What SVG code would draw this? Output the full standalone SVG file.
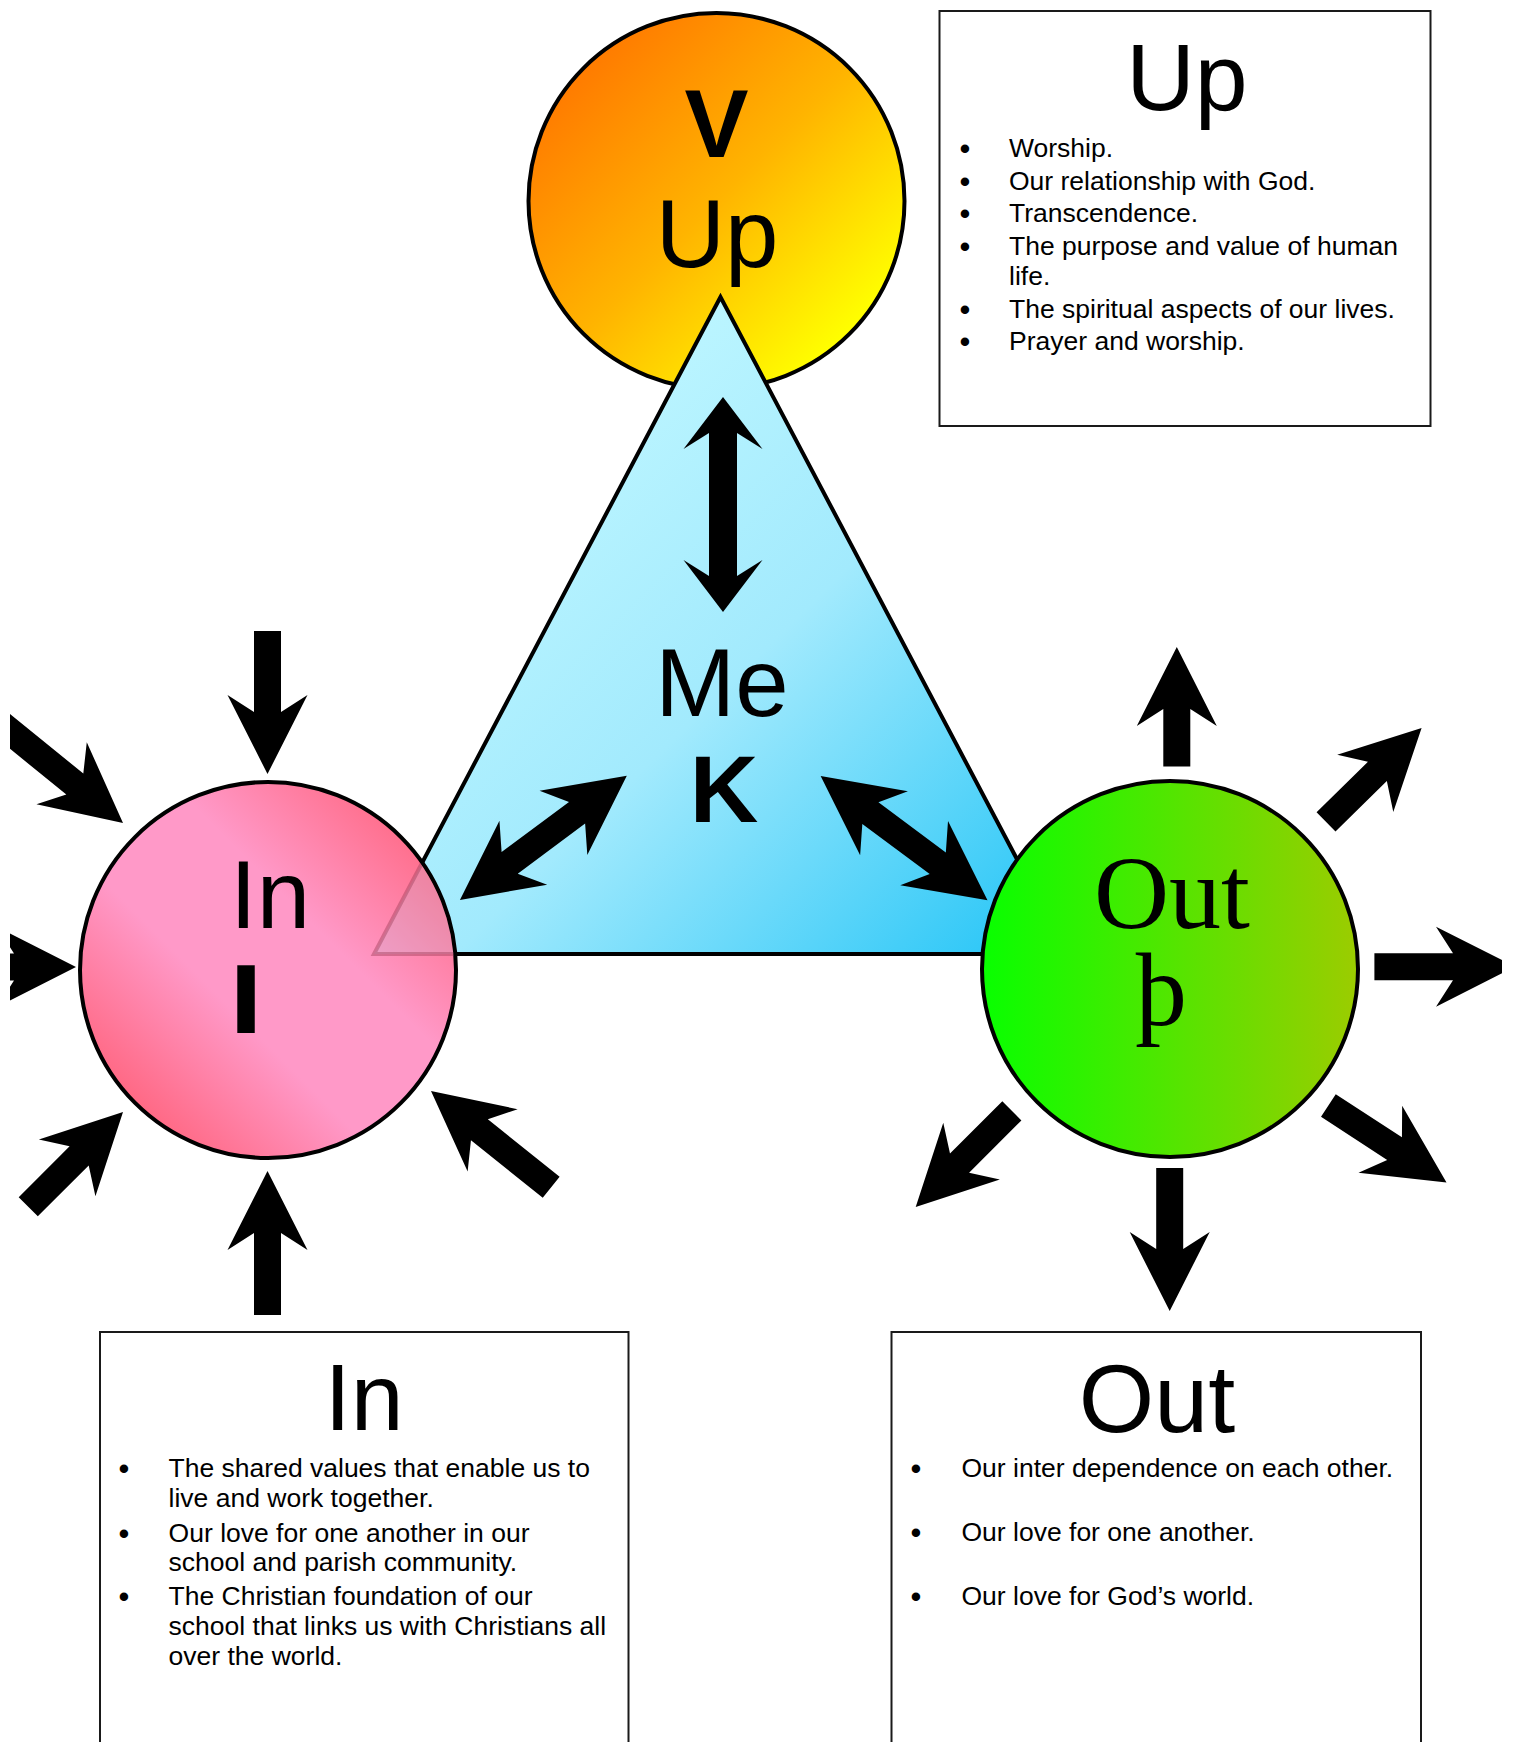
<svg xmlns="http://www.w3.org/2000/svg" width="1514" height="1742" viewBox="0 0 1514 1742">
  <style>
    .sans { font-family: "Liberation Sans", Arial, sans-serif; fill: #000; }
    .big { font-size: 96px; }
    .bold { font-weight: bold; }
    .serif { font-family: "Liberation Serif", "Times New Roman", serif; fill: #000; font-size: 104px; }
    .mid { text-anchor: middle; }
    .body { font-family: "Liberation Sans", Arial, sans-serif; font-size: 26.5px; fill: #000; }
    .bul { font-size: 31px; text-anchor: middle; }
    .box { fill: #fff; stroke: #1a1a1a; stroke-width: 2; }
    .node { stroke: #000; stroke-width: 4; }
    .arrow { fill: #000; }
  </style>
  <defs>
    <linearGradient id="gUp" x1="0" y1="0" x2="1" y2="1">
      <stop offset="0.1" stop-color="#ff7400"/>
      <stop offset="0.5" stop-color="#ffb400"/>
      <stop offset="0.85" stop-color="#ffff00"/>
    </linearGradient>
    <linearGradient id="gIn" x1="0" y1="1" x2="1" y2="0">
      <stop offset="0.1" stop-color="#ff6078"/>
      <stop offset="0.4" stop-color="#ff99c8"/>
      <stop offset="0.62" stop-color="#ff99c8"/>
      <stop offset="0.9" stop-color="#ff6883"/>
    </linearGradient>
    <linearGradient id="gOut" x1="0" y1="0" x2="1" y2="0">
      <stop offset="0" stop-color="#08ff00"/>
      <stop offset="1" stop-color="#9ccc00"/>
    </linearGradient>
    <linearGradient id="gMe" gradientUnits="userSpaceOnUse" x1="560" y1="450" x2="1060" y2="960">
      <stop offset="0" stop-color="#bbf5ff"/>
      <stop offset="0.4" stop-color="#a2eafd"/>
      <stop offset="1" stop-color="#1fc3f6"/>
    </linearGradient>
    <clipPath id="page">
      <rect x="10" y="0" width="1492" height="1742"/>
    </clipPath>
    <clipPath id="inClip">
      <circle cx="268" cy="970" r="186"/>
    </clipPath>
  </defs>

  <rect x="0" y="0" width="1514" height="1742" fill="#fff"/>

  <g id="node-up">
    <circle class="node" cx="716.5" cy="201" r="188" fill="url(#gUp)"/>
    <text class="sans big bold mid" x="716.5" y="157">V</text>
    <text class="sans big mid" x="717" y="267">Up</text>
  </g>

  <g id="node-me">
    <polygon class="node" points="720.5,297 374,954 1067,954" fill="url(#gMe)"/>
    <text class="sans big mid" x="722" y="716">Me</text>
    <text class="sans big bold mid" x="724" y="822" style="font-size:95px">K</text>
  </g>

  <g id="node-in">
    <circle class="node" cx="268" cy="970" r="188" fill="url(#gIn)"/>
    <polygon points="720.5,297 374,954 1067,954" fill="#a0d8f0" fill-opacity="0.18" stroke="#a0405a" stroke-opacity="0.45" stroke-width="4" clip-path="url(#inClip)"/>
    <text class="sans big mid" x="270" y="928">In</text>
    <text class="bold mid" x="246" y="1033" style="font-family:'DejaVu Sans',sans-serif;font-size:93px;fill:#000">I</text>
  </g>

  <g id="node-out">
    <circle class="node" cx="1170" cy="969" r="188" fill="url(#gOut)"/>
    <text class="serif mid" x="1172" y="928">Out</text>
    <text class="serif mid" x="1161" y="1025">þ</text>
  </g>

  <g id="connectors" clip-path="url(#page)">
    <polygon class="arrow" transform="translate(723,612) rotate(90)" points="0,0 -52,-39.5 -36,-14 -179,-14 -163,-39.5 -215,0 -163,39.5 -179,14 -36,14 -52,39.5"/>
    <polygon class="arrow" transform="translate(626.8,775.7) rotate(-36.66)" points="0,0 -79,-40 -62,-13.5 -146,-13.5 -129,-40 -208,0 -129,40 -146,13.5 -62,13.5 -79,40"/>
    <polygon class="arrow" transform="translate(987.5,900.3) rotate(36.66)" points="0,0 -79,-40 -62,-13.5 -146,-13.5 -129,-40 -208,0 -129,40 -146,13.5 -62,13.5 -79,40"/>
    <polygon class="arrow" transform="translate(267.5,774) rotate(90)" points="0,0 -79,-40 -62,-13.5 -143,-13.5 -143,13.5 -62,13.5 -79,40"/>
    <polygon class="arrow" transform="translate(123,823) rotate(39)" points="0,0 -79,-40 -62,-13.5 -170,-13.5 -170,13.5 -62,13.5 -79,40"/>
    <polygon class="arrow" transform="translate(76,967)" points="0,0 -79,-40 -62,-13.5 -110,-13.5 -110,13.5 -62,13.5 -79,40"/>
    <polygon class="arrow" transform="translate(123,1112) rotate(-45)" points="0,0 -79,-40 -62,-13.5 -134,-13.5 -134,13.5 -62,13.5 -79,40"/>
    <polygon class="arrow" transform="translate(267.5,1171) rotate(-90)" points="0,0 -79,-40 -62,-13.5 -144,-13.5 -144,13.5 -62,13.5 -79,40"/>
    <polygon class="arrow" transform="translate(431,1091) rotate(218.7)" points="0,0 -79,-40 -62,-13.5 -154,-13.5 -154,13.5 -62,13.5 -79,40"/>
    <polygon class="arrow" transform="translate(1176.8,647) rotate(-90)" points="0,0 -79,-40 -62,-13.5 -119.5,-13.5 -119.5,13.5 -62,13.5 -79,40"/>
    <polygon class="arrow" transform="translate(1421.6,728) rotate(-44.5)" points="0,0 -79,-40 -62,-13.5 -134,-13.5 -134,13.5 -62,13.5 -79,40"/>
    <polygon class="arrow" transform="translate(1515,966.7)" points="0,0 -79,-40 -62,-13.5 -140.6,-13.5 -140.6,13.5 -62,13.5 -79,40"/>
    <polygon class="arrow" transform="translate(1446.5,1182.5) rotate(33.1)" points="0,0 -79,-40 -62,-13.5 -141,-13.5 -141,13.5 -62,13.5 -79,40"/>
    <polygon class="arrow" transform="translate(1169.7,1311) rotate(90)" points="0,0 -79,-40 -62,-13.5 -143,-13.5 -143,13.5 -62,13.5 -79,40"/>
    <polygon class="arrow" transform="translate(915.7,1207) rotate(135)" points="0,0 -79,-40 -62,-13.5 -136,-13.5 -136,13.5 -62,13.5 -79,40"/>
  </g>

  <g id="box-up">
    <rect class="box" x="939.5" y="11" width="491" height="415"/>
    <text class="sans mid" x="1187" y="110" style="font-size:95px">Up</text>
    <g class="body">
      <text class="bul" x="965" y="159">•</text><text x="1009" y="157">Worship.</text>
      <text class="bul" x="965" y="192">•</text><text x="1009" y="190">Our relationship with God.</text>
      <text class="bul" x="965" y="224">•</text><text x="1009" y="222">Transcendence.</text>
      <text class="bul" x="965" y="257">•</text><text x="1009" y="255">The purpose and value of human</text>
      <text x="1009" y="285">life.</text>
      <text class="bul" x="965" y="320">•</text><text x="1009" y="318">The spiritual aspects of our lives.</text>
      <text class="bul" x="965" y="352">•</text><text x="1009" y="350">Prayer and worship.</text>
    </g>
  </g>

  <g id="box-in">
    <rect class="box" x="100" y="1332" width="528.5" height="430"/>
    <text class="sans mid" x="364" y="1430" style="font-size:95px">In</text>
    <g class="body">
      <text class="bul" x="124" y="1479">•</text><text x="168.6" y="1477">The shared values that enable us to</text>
      <text x="168.6" y="1507">live and work together.</text>
      <text class="bul" x="124" y="1544">•</text><text x="168.6" y="1542">Our love for one another in our</text>
      <text x="168.6" y="1571">school and parish community.</text>
      <text class="bul" x="124" y="1607">•</text><text x="168.6" y="1605">The Christian foundation of our</text>
      <text x="168.6" y="1635">school that links us with Christians all</text>
      <text x="168.6" y="1665">over the world.</text>
    </g>
  </g>

  <g id="box-out">
    <rect class="box" x="891.5" y="1332" width="529.5" height="430"/>
    <text class="sans mid" x="1157" y="1432" style="font-size:97px">Out</text>
    <g class="body">
      <text class="bul" x="916" y="1479">•</text><text x="961.5" y="1477">Our inter dependence on each other.</text>
      <text class="bul" x="916" y="1543">•</text><text x="961.5" y="1541">Our love for one another.</text>
      <text class="bul" x="916" y="1607">•</text><text x="961.5" y="1605">Our love for God’s world.</text>
    </g>
  </g>
</svg>
